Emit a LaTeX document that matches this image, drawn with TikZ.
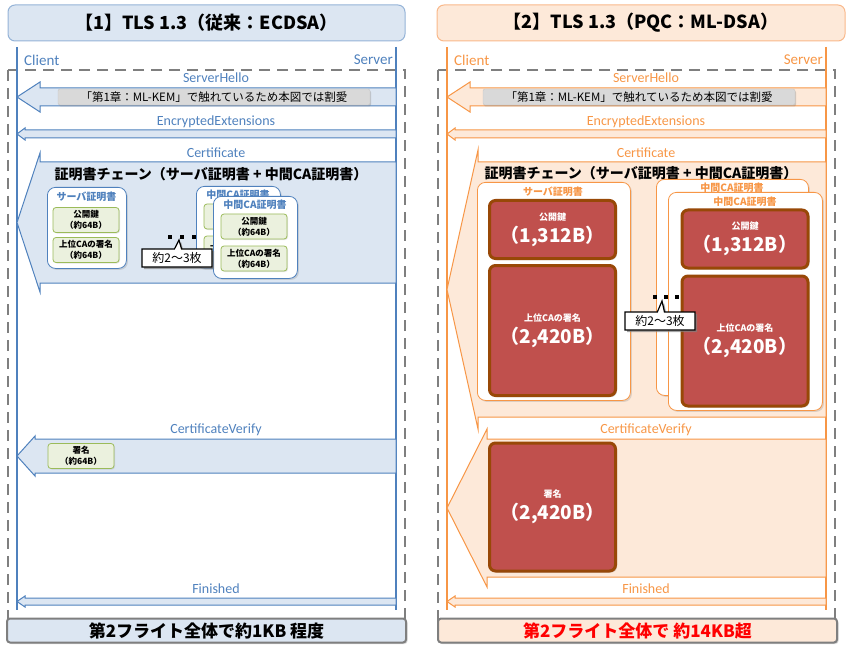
\documentclass[tikz,border=0pt]{standalone}
\usepackage{fontspec}
\setmainfont{Carlito}
\newfontfamily\jp{Noto Sans CJK JP}
\usepackage{tikz}
\usetikzlibrary{shapes.callouts, shadows}

\definecolor{bline}{HTML}{4F81BD}
\definecolor{bfill}{HTML}{DCE6F2}
\definecolor{bedge}{HTML}{95B3D7}
\definecolor{oline}{HTML}{F79646}
\definecolor{ofill}{HTML}{FDE9D9}
\definecolor{oedge}{HTML}{F9B88A}
\definecolor{gline}{HTML}{9BBB59}
\definecolor{gfill}{HTML}{EBF1DE}
\definecolor{rline}{HTML}{984807}
\definecolor{rfill}{HTML}{C0504D}
\definecolor{dgray}{HTML}{7F7F7F}
\definecolor{nfill}{HTML}{D9D9D9}

% block arrow: style, tip x, head back x, right x, top y, bottom y, overhang
\newcommand{\blockmsg}[7]{%
  \draw[#1] (#4,#5) -- (#3,#5) -- (#3,#5-#7) -- (#2,{(#5+#6)/2})
    -- (#3,#6+#7) -- (#3,#6) -- (#4,#6) -- cycle;}

\tikzset{
  ttl/.style={rounded corners=7pt, line width=1pt, inner sep=0pt,
    font=\jp\bfseries\fontsize{18}{20}\selectfont},
  frame/.style={draw=dgray, line width=2.5pt, dash pattern=on 11pt off 7pt},
  who/.style={font=\fontsize{15}{17}\selectfont, inner sep=0pt},
  msg/.style={font=\fontsize{14}{16}\selectfont, inner sep=0pt},
  note/.style={fill=nfill, draw=gray!45, rounded corners=2pt, inner sep=0pt,
    minimum width=312pt, minimum height=16pt,
    font=\jp\fontsize{11.5}{13}\selectfont,
    drop shadow={opacity=0.35, shadow xshift=1pt, shadow yshift=-1.5pt}},
  chain/.style={font=\jp\bfseries\fontsize{14}{16}\selectfont, inner sep=0pt},
  cert/.style={fill=white, rounded corners=8pt, line width=0.8pt,
    anchor=north west, inner sep=0pt,
    drop shadow={opacity=0.25, shadow xshift=1.5pt, shadow yshift=-1.5pt}},
  ctitle/.style={font=\jp\bfseries\fontsize{10}{12}\selectfont, inner sep=0pt},
  keyG/.style={draw=gline, fill=gfill, rounded corners=3pt, line width=0.8pt,
    minimum width=66pt, minimum height=25pt, inner sep=0pt, align=center,
    font=\jp\bfseries\fontsize{8.5}{11}\selectfont,
    drop shadow={opacity=0.2, shadow xshift=1pt, shadow yshift=-1pt}},
  keyR/.style={draw=rline, fill=rfill, rounded corners=6pt, line width=3pt,
    minimum width=126pt, inner sep=0pt, align=center, text=white,
    font=\jp\bfseries\fontsize{19}{22}\selectfont,
    drop shadow={opacity=0.3, shadow xshift=1.5pt, shadow yshift=-1.5pt}},
  small/.style={font=\jp\bfseries\fontsize{9}{11}\selectfont},
  count/.style={rectangle callout, draw=black, line width=1.2pt, fill=white,
    minimum width=70pt, minimum height=18pt, inner sep=0pt,
    font=\jp\fontsize{12}{14}\selectfont,
    drop shadow={opacity=0.7, shadow xshift=2pt, shadow yshift=-2pt}},
  sumbox/.style={draw=dgray, line width=2pt, rounded corners=3pt, inner sep=0pt,
    minimum width=399pt, minimum height=24pt,
    font=\jp\bfseries\fontsize{17}{19}\selectfont,
    drop shadow={opacity=0.3, shadow xshift=1.5pt, shadow yshift=-1.5pt}}
}

\begin{document}
\begin{tikzpicture}[x=1pt, y=-1pt]
\useasboundingbox (0,0) rectangle (850,660);

% titles
\node[ttl, fill=bfill, draw=bedge, minimum width=397pt, minimum height=36pt] (titleL) at (206.5,23) {【1】TLS 1.3（従来：ECDSA）};
\node[ttl, fill=ofill, draw=oedge, minimum width=408pt, minimum height=36pt] (titleR) at (641,23) {【2】TLS 1.3（PQC：ML-DSA）};

% frame, lifelines and simple messages of both panels
\foreach \dx/\ln/\fl/\p/\nx in {0/bline/bfill/L/214, 430/oline/ofill/R/639}{
  \draw[frame] (8+\dx,70) rectangle (405+\dx,632);
  \coordinate (cliTop\p) at (17+\dx,47);
  \coordinate (cliBot\p) at (17+\dx,610);
  \coordinate (srvTop\p) at (396+\dx,47);
  \coordinate (srvBot\p) at (396+\dx,610);
  \draw[draw=\ln, line width=1.2pt] (cliTop\p) -- (cliBot\p);
  \draw[draw=\ln, line width=1.2pt] (srvTop\p) -- (srvBot\p);
  \node[who, text=\ln, anchor=west] (client\p) at (24+\dx,60) {Client};
  \node[who, text=\ln, anchor=east] (server\p) at (393+\dx,60) {Server};
  \node[msg, text=\ln] (hello\p) at (216+\dx,78) {ServerHello};
  \blockmsg{draw=\ln, fill=\fl, line width=1pt}{17+\dx}{40+\dx}{396+\dx}{88}{106}{6}
  \node[note] (skip\p) at (\nx,97) {「第1章：ML-KEM」で触れているため本図では割愛};
  \node[msg, text=\ln] (ee\p) at (216+\dx,122) {EncryptedExtensions};
  \blockmsg{draw=\ln, fill=\fl, line width=1pt}{17+\dx}{25+\dx}{396+\dx}{130}{138}{2}
  \node[msg, text=\ln] (cert\p) at (216+\dx,153) {Certificate};
  \node[msg, text=\ln] (cv\p) at (216+\dx,430) {CertificateVerify};
  \node[msg, text=\ln] (fin\p) at (216+\dx,589) {Finished};
  \blockmsg{draw=\ln, fill=\fl, line width=1pt}{17+\dx}{25+\dx}{396+\dx}{598}{605}{2}
}

% Certificate / CertificateVerify
\blockmsg{draw=bline, fill=bfill, line width=1pt}{17}{40}{396}{162}{283}{9}
\blockmsg{draw=oline, fill=ofill, line width=1pt}{447}{478}{826}{162}{417}{12}
\blockmsg{draw=bline, fill=bfill, line width=1pt}{17}{35}{396}{439}{473}{3}
\blockmsg{draw=oline, fill=ofill, line width=1pt}{447}{487}{826}{439}{577}{10}

\node[chain] (chainL) at (211,174) {証明書チェーン（サーバ証明書 + 中間CA証明書）};
\node[chain] (chainR) at (641,173) {証明書チェーン（サーバ証明書 + 中間CA証明書）};

% ---- left: ECDSA ----
\node[cert, draw=bline, minimum width=79pt, minimum height=81pt] (srvL) at (47,187) {};
\node[ctitle, text=bline] (srvLt) at (86.5,197) {サーバ証明書};
\node[keyG] (pubL) at (86,220) {公開鍵\\（約64B）};
\node[keyG] (sigL) at (86,250) {上位CAの署名\\（約64B）};

\node[cert, draw=bline, minimum width=84pt, minimum height=82pt] (caBL) at (196,186) {};
\node[ctitle, text=bline] (caBLt) at (238,195) {中間CA証明書};
\node[keyG] (pubBL) at (237,216.5) {公開鍵\\（約64B）};
\node[keyG] (sigBL) at (237,248.5) {上位CAの署名\\（約64B）};

\node[cert, draw=bline, minimum width=84pt, minimum height=82pt] (caFL) at (213,196) {};
\node[ctitle, text=bline] (caFLt) at (255,205) {中間CA証明書};
\node[keyG] (pubFL) at (254,226.5) {公開鍵\\（約64B）};
\node[keyG] (sigFL) at (254,258.5) {上位CAの署名\\（約64B）};

\node[keyG] (cvsigL) at (81,456) {署名\\（約64B）};

% ---- right: ML-DSA ----
\node[cert, draw=oline, minimum width=153pt, minimum height=218pt] (srvR) at (477,182) {};
\node[ctitle, text=oline] (srvRt) at (553,192) {サーバ証明書};
\node[keyR, minimum height=58pt] (pubR) at (552.5,229.5) {{\small 公開鍵}\\（1,312B）};
\node[keyR, minimum height=130pt] (sigR) at (552.5,330.5) {{\small 上位CAの署名}\\（2,420B）};

\node[cert, draw=oline, minimum width=152pt, minimum height=216pt] (caBR) at (656,179) {};
\node[ctitle, text=oline] (caBRt) at (732,188) {中間CA証明書};

\node[cert, draw=oline, minimum width=154pt, minimum height=218pt] (caFR) at (668,192) {};
\node[ctitle, text=oline] (caFRt) at (745,202) {中間CA証明書};
\node[keyR, minimum height=58pt] (pubFR) at (745,239) {{\small 公開鍵}\\（1,312B）};
\node[keyR, minimum height=130pt] (sigFR) at (745,341) {{\small 上位CAの署名}\\（2,420B）};

\node[keyR, minimum height=128pt] (cvsigR) at (552.5,507) {{\small 署名}\\（2,420B）};

% dots and counts
\foreach \i in {0,1,2} {
  \fill (168+\i*12,235) rectangle ++(4,4);
  \fill (653+\i*11,295) rectangle ++(4,4);
}
\coordinate (dotsL) at (179,240);
\coordinate (dotsR) at (662,301);
\node[count, callout absolute pointer={(dotsL)}] (numL) at (177,258) {約2〜3枚};
\node[count, callout absolute pointer={(dotsR)}] (numR) at (660,321) {約2〜3枚};

% totals
\node[sumbox, fill=bfill] (sumL) at (206.5,630.5) {第2フライト全体で約1KB 程度};
\node[sumbox, fill=ofill, text=red] (sumR) at (637.5,630.5) {第2フライト全体で 約14KB超};
\end{tikzpicture}
\end{document}
